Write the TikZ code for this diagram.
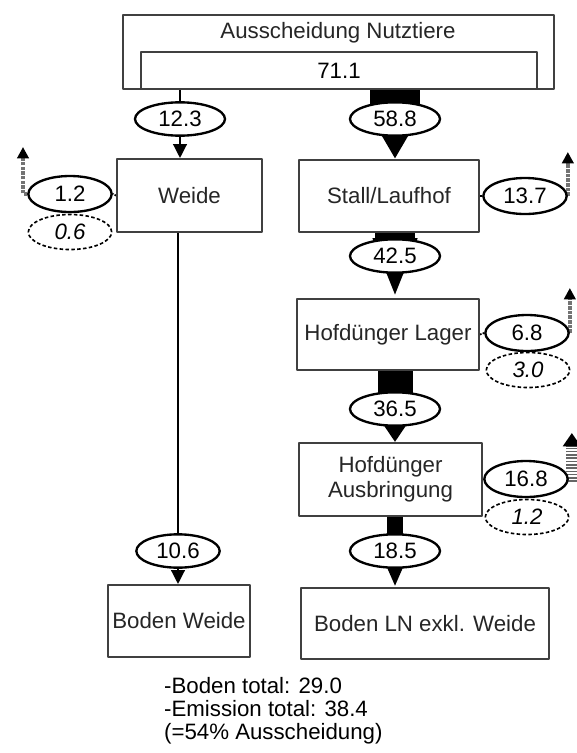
\documentclass[tikz,border=0pt]{standalone}
\usepackage{fontspec}
\setmainfont{Liberation Sans}
\usetikzlibrary{arrows.meta,shapes.geometric,backgrounds}

\begin{document}
\begin{tikzpicture}[x=0.03cm,y=-0.03cm,line join=round,
    font=\fontsize{19}{21}\selectfont,
    box/.style={draw=black!75,line width=1.5pt,fill=white,text=black!85,align=center,inner sep=0pt},
    flow/.style={ellipse,draw,line width=2pt,fill=white,minimum width=2.7cm,minimum height=1cm,inner sep=0pt},
    loss/.style={flow,minimum width=2.5cm,minimum height=1.08cm},
    part/.style={ellipse,draw,densely dashed,line width=1.4pt,fill=white,minimum width=2.5cm,minimum height=1.05cm,inner sep=0pt,font=\fontsize{19}{21}\selectfont\itshape},
    thinflow/.style={line width=2.4pt,-{Triangle[width=0.4cm,length=0.42cm]}},
    band/.style n args={3}{line width=#1,-{Triangle[width=#2,length=#3]}},
    gas/.style={line width=3pt,black!55,densely dotted,-{Triangle[width=0.34cm,length=0.34cm,color=black]}},
    stripes/.style={line width=0.36cm,black!60,dash pattern=on 1.4pt off 1.4pt,-{Triangle[width=0.52cm,length=0.4cm,color=black]}}]
  \useasboundingbox (0,0) rectangle (576,753);

  \node[box,minimum width=12.93cm,minimum height=2.22cm] (aus) at (338.5,52) {};
  \node[text=black!85] (ausname) at (338,33) {Ausscheidung Nutztiere};
  \node[box,text=black,minimum width=11.88cm,minimum height=1.11cm] (tot) at (339,70.5) {71.1};

  \node[box,minimum width=4.35cm,minimum height=2.19cm] (weide) at (189.5,195.5) {Weide};
  \node[box,minimum width=5.4cm,minimum height=2.16cm] (stall) at (389,196) {Stall/Laufhof};
  \node[box,minimum width=5.46cm,minimum height=2.13cm] (lager) at (388,334.5) {Hofdünger Lager};
  \node[box,minimum width=5.49cm,minimum height=2.19cm] (ausbr) at (390.5,479.5) {Hofdünger\\Ausbringung};
  \node[box,minimum width=4.26cm,minimum height=2.16cm] (bweide) at (179,621) {Boden Weide};
  \node[box,minimum width=7.44cm,minimum height=2.13cm] (bln) at (425,623.5) {Boden LN exkl. Weide};

  \node[flow] (f123) at (180,119) {12.3};
  \node[flow] (f588) at (395,119) {58.8};
  \node[flow] (f425) at (395,256) {42.5};
  \node[flow] (f365) at (395,409) {36.5};
  \node[flow] (f185) at (395,551) {18.5};
  \node[flow,minimum width=2.5cm] (f106) at (178,551) {10.6};

  \node[loss] (l12) at (70,194) {1.2};
  \node[part] (p06) at (70,232) {0.6};
  \node[loss] (l137) at (525,196) {13.7};
  \node[loss] (l68) at (527,333) {6.8};
  \node[part] (p30) at (528,370) {3.0};
  \node[loss] (l168) at (526,479) {16.8};
  \node[part] (p12) at (527,517) {1.2};

  \node[anchor=west,align=left,font=\fontsize{19}{19.6}\selectfont] (sum) at (160,711)
    {-Boden total: 29.0\\-Emission total: 38.4\\(=54\% Ausscheidung)};

  \begin{scope}[on background layer]
    \draw[thinflow] (f123 |- tot.south) -- (f123 |- weide.north);
    \draw[thinflow] (f106 |- weide.south) -- (f106 |- bweide.north);
    \draw[band={1.5cm}{1.5cm}{1.4cm}] (f588 |- tot.south) -- (f588 |- stall.north);
    \draw[band={1.2cm}{1.2cm}{1.8cm}] (f425 |- stall.south) -- (f425 |- lager.north);
    \draw[band={1.05cm}{1.05cm}{0.83cm}] (f365 |- lager.south) -- (f365 |- ausbr.north);
    \draw[band={0.48cm}{0.72cm}{0.96cm}] (f185 |- ausbr.south) -- (f185 |- bln.north);

    \draw[densely dotted,line width=1.5pt] (weide.west) -- (l12.east);
    \coordinate (up12) at (23,147);
    \draw[gas] (l12.west) -| (up12);
    \draw[line width=1.2pt] (stall.east) -- (l137.west);
    \draw[gas] (l137.east) -- ++(0,-44);
    \draw[densely dotted,line width=1.5pt] (lager.east) -- (l68.west);
    \draw[gas] (l68.east) -- ++(0,-45);
    \draw[line width=3pt] (ausbr.east) -- (l168.west);
    \draw[stripes] (l168.east) ++(3,3) -- ++(0,-49);
  \end{scope}
\end{tikzpicture}
\end{document}
